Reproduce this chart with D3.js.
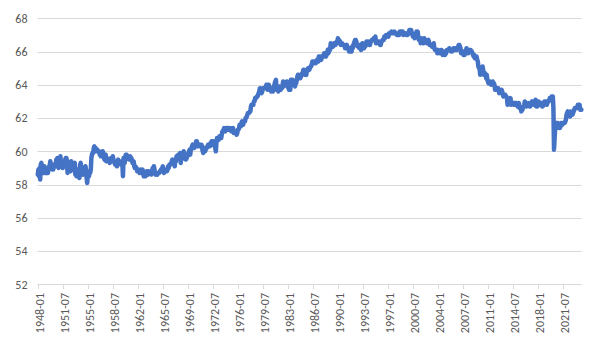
<!DOCTYPE html>
<html>
<head>
<meta charset="utf-8">
<script src="https://cdn.jsdelivr.net/npm/d3@7"></script>
<style>
  html, body { margin: 0; padding: 0; background: #fff; }
  svg { display: block; }
</style>
</head>
<body>
<svg id="chart" width="600" height="360"></svg>
<script>
// Labour force participation rate (%), monthly, starting 1948-01
const startYear = 1948;
const participationRate = [
  // 1948
  58.6, 58.9, 58.5, 59.0, 58.3, 59.2, 59.3, 58.9, 58.9, 58.7, 58.7, 59.1,
  // 1949
  58.7, 58.9, 58.7, 58.7, 58.9, 58.7, 59.0, 59.1, 59.1, 59.4, 59.1, 59.0,
  // 1950
  58.9, 58.9, 58.9, 59.2, 59.1, 59.1, 59.1, 59.5, 59.1, 59.6, 59.3, 59.0,
  // 1951
  59.3, 59.2, 59.7, 59.2, 59.3, 59.1, 59.0, 59.3, 59.1, 59.1, 59.5, 59.6,
  // 1952
  59.6, 59.4, 58.7, 58.9, 58.9, 59.2, 58.9, 58.8, 59.4, 59.1, 59.3, 59.2,
  // 1953
  58.9, 59.2, 59.3, 58.6, 58.8, 58.5, 58.9, 58.7, 58.6, 58.5, 58.4, 59.2,
  // 1954
  59.3, 59.0, 58.8, 58.7, 58.6, 58.8, 58.7, 58.8, 59.1, 58.9, 58.4, 58.1,
  // 1955
  58.6, 58.5, 58.5, 58.8, 58.7, 58.9, 59.6, 59.8, 59.9, 59.9, 60.2, 60.3,
  // 1956
  60.1, 60.2, 60.1, 60.0, 60.1, 60.0, 60.0, 60.0, 59.8, 59.9, 59.7, 59.8,
  // 1957
  59.8, 60.0, 59.9, 59.6, 59.5, 59.7, 59.8, 59.4, 59.6, 59.4, 59.5, 59.4,
  // 1958
  59.4, 59.3, 59.5, 59.6, 59.5, 59.4, 59.7, 59.5, 59.4, 59.3, 59.2, 59.3,
  // 1959
  59.3, 59.1, 59.3, 59.5, 59.3, 59.3, 59.4, 59.3, 59.2, 59.3, 59.3, 58.5,
  // 1960
  59.6, 59.5, 59.3, 59.7, 59.8, 59.8, 59.7, 59.6, 59.6, 59.5, 59.5, 59.7,
  // 1961
  59.6, 59.6, 59.5, 59.3, 59.3, 59.4, 59.1, 59.0, 59.1, 59.0, 59.0, 58.8,
  // 1962
  58.8, 58.9, 58.8, 58.7, 58.8, 58.9, 58.7, 58.8, 58.9, 58.7, 58.5, 58.5,
  // 1963
  58.6, 58.5, 58.6, 58.8, 58.7, 58.6, 58.8, 58.7, 58.7, 58.8, 58.8, 58.6,
  // 1964
  58.7, 59.0, 58.8, 59.1, 58.9, 58.7, 58.6, 58.7, 58.7, 58.6, 58.7, 58.7,
  // 1965
  58.7, 58.8, 58.8, 58.9, 58.9, 59.0, 59.1, 58.8, 58.7, 58.9, 58.9, 58.8,
  // 1966
  58.9, 58.8, 58.9, 59.1, 59.0, 59.2, 59.2, 59.2, 59.3, 59.4, 59.5, 59.4,
  // 1967
  59.3, 59.3, 59.1, 59.5, 59.4, 59.7, 59.6, 59.7, 59.8, 59.8, 59.8, 59.9,
  // 1968
  59.3, 59.6, 59.6, 59.6, 59.8, 60.0, 59.8, 59.6, 59.5, 59.5, 59.6, 59.7,
  // 1969
  59.8, 59.9, 60.0, 60.1, 59.8, 60.1, 60.2, 60.3, 60.4, 60.3, 60.3, 60.2,
  // 1970
  60.4, 60.4, 60.6, 60.6, 60.5, 60.3, 60.4, 60.3, 60.3, 60.4, 60.4, 60.4,
  // 1971
  60.2, 60.0, 59.9, 60.1, 60.2, 60.0, 60.1, 60.2, 60.2, 60.3, 60.4, 60.4,
  // 1972
  60.3, 60.3, 60.5, 60.5, 60.6, 60.6, 60.4, 60.6, 60.5, 60.4, 60.2, 60.0,
  // 1973
  60.5, 60.8, 60.8, 60.7, 60.7, 60.9, 60.9, 60.8, 60.8, 61.0, 61.2, 61.2,
  // 1974
  61.3, 61.4, 61.3, 61.2, 61.3, 61.4, 61.4, 61.3, 61.4, 61.3, 61.3, 61.3,
  // 1975
  61.4, 61.2, 61.3, 61.3, 61.4, 61.1, 61.2, 61.2, 61.1, 61.1, 61.0, 61.1,
  // 1976
  61.3, 61.3, 61.4, 61.6, 61.5, 61.5, 61.7, 61.8, 61.6, 61.6, 61.8, 61.8,
  // 1977
  61.8, 62.0, 62.0, 62.1, 62.2, 62.3, 62.3, 62.3, 62.4, 62.4, 62.7, 62.8,
  // 1978
  62.8, 62.8, 62.8, 63.0, 63.0, 63.2, 63.2, 63.2, 63.3, 63.3, 63.4, 63.5,
  // 1979
  63.6, 63.8, 63.8, 63.6, 63.5, 63.6, 63.8, 63.8, 63.8, 63.8, 63.8, 63.9,
  // 1980
  64.0, 64.0, 63.7, 63.8, 64.0, 63.7, 63.8, 63.7, 63.6, 63.7, 63.8, 63.6,
  // 1981
  63.9, 63.9, 64.1, 64.2, 64.3, 63.7, 63.8, 63.8, 63.6, 63.9, 63.9, 63.8,
  // 1982
  63.7, 63.8, 63.8, 63.9, 64.2, 63.9, 64.0, 64.1, 64.1, 64.1, 64.2, 64.1,
  // 1983
  63.9, 63.8, 63.7, 63.8, 63.7, 64.3, 64.1, 64.3, 64.3, 64.0, 64.1, 64.1,
  // 1984
  63.9, 64.1, 64.1, 64.3, 64.5, 64.6, 64.6, 64.4, 64.4, 64.4, 64.5, 64.6,
  // 1985
  64.7, 64.7, 64.9, 64.9, 64.8, 64.6, 64.7, 64.6, 64.9, 64.9, 65.0, 65.0,
  // 1986
  64.9, 65.0, 65.1, 65.1, 65.2, 65.4, 65.4, 65.3, 65.4, 65.4, 65.4, 65.3,
  // 1987
  65.4, 65.5, 65.5, 65.4, 65.7, 65.5, 65.6, 65.7, 65.5, 65.7, 65.7, 65.7,
  // 1988
  65.8, 65.9, 65.7, 65.8, 65.7, 65.8, 65.9, 66.1, 65.9, 66.0, 66.2, 66.1,
  // 1989
  66.5, 66.3, 66.3, 66.4, 66.3, 66.4, 66.5, 66.5, 66.4, 66.5, 66.6, 66.5,
  // 1990
  66.8, 66.7, 66.7, 66.6, 66.6, 66.4, 66.5, 66.5, 66.4, 66.4, 66.4, 66.4,
  // 1991
  66.2, 66.2, 66.3, 66.4, 66.2, 66.2, 66.1, 66.0, 66.2, 66.1, 66.1, 66.0,
  // 1992
  66.3, 66.2, 66.4, 66.5, 66.6, 66.7, 66.7, 66.6, 66.4, 66.3, 66.3, 66.4,
  // 1993
  66.2, 66.2, 66.2, 66.1, 66.4, 66.5, 66.4, 66.4, 66.2, 66.3, 66.3, 66.4,
  // 1994
  66.6, 66.6, 66.5, 66.5, 66.6, 66.4, 66.4, 66.6, 66.6, 66.7, 66.7, 66.7,
  // 1995
  66.8, 66.8, 66.7, 66.9, 66.5, 66.5, 66.6, 66.6, 66.6, 66.6, 66.5, 66.4,
  // 1996
  66.4, 66.6, 66.6, 66.7, 66.7, 66.7, 66.9, 66.8, 66.9, 67.0, 67.0, 67.0,
  // 1997
  67.0, 66.9, 67.1, 67.1, 67.1, 67.1, 67.2, 67.1, 67.1, 67.1, 67.1, 67.2,
  // 1998
  67.1, 67.1, 67.1, 67.0, 67.0, 67.0, 67.0, 67.0, 67.2, 67.2, 67.1, 67.2,
  // 1999
  67.2, 67.2, 67.0, 67.1, 67.1, 67.1, 67.1, 67.0, 67.0, 67.0, 67.1, 67.1,
  // 2000
  67.3, 67.3, 67.3, 67.3, 67.1, 67.1, 66.9, 66.9, 66.9, 66.8, 66.9, 67.0,
  // 2001
  67.2, 67.1, 67.2, 66.9, 66.7, 66.7, 66.8, 66.5, 66.8, 66.7, 66.7, 66.7,
  // 2002
  66.5, 66.8, 66.6, 66.7, 66.7, 66.6, 66.5, 66.6, 66.7, 66.6, 66.4, 66.4,
  // 2003
  66.4, 66.4, 66.3, 66.4, 66.4, 66.5, 66.2, 66.1, 66.1, 66.1, 66.1, 65.9,
  // 2004
  66.1, 66.0, 66.0, 65.9, 65.9, 66.1, 66.1, 66.0, 65.8, 65.9, 66.0, 65.9,
  // 2005
  65.8, 65.9, 65.9, 66.1, 66.1, 66.1, 66.1, 66.2, 66.1, 66.1, 66.0, 66.0,
  // 2006
  66.0, 66.1, 66.2, 66.1, 66.1, 66.2, 66.1, 66.2, 66.1, 66.2, 66.3, 66.4,
  // 2007
  66.4, 66.3, 66.2, 65.9, 66.0, 66.0, 66.0, 65.8, 66.0, 65.8, 66.0, 66.0,
  // 2008
  66.2, 66.0, 66.1, 65.9, 66.1, 66.1, 66.1, 66.1, 66.0, 66.0, 65.9, 65.8,
  // 2009
  65.7, 65.8, 65.6, 65.7, 65.7, 65.7, 65.5, 65.4, 65.1, 65.0, 65.0, 64.6,
  // 2010
  64.8, 64.9, 64.9, 65.1, 64.9, 64.6, 64.6, 64.7, 64.6, 64.4, 64.6, 64.3,
  // 2011
  64.2, 64.1, 64.2, 64.2, 64.1, 64.0, 64.0, 64.1, 64.2, 64.1, 64.1, 64.0,
  // 2012
  63.7, 63.8, 63.8, 63.7, 63.8, 63.8, 63.7, 63.5, 63.6, 63.7, 63.6, 63.7,
  // 2013
  63.6, 63.4, 63.3, 63.4, 63.4, 63.4, 63.3, 63.3, 63.2, 62.8, 63.0, 62.9,
  // 2014
  62.9, 63.0, 63.2, 62.8, 62.9, 62.9, 62.9, 62.9, 62.8, 62.9, 62.9, 62.8,
  // 2015
  62.9, 62.8, 62.7, 62.8, 62.9, 62.6, 62.6, 62.6, 62.4, 62.5, 62.5, 62.7,
  // 2016
  62.7, 62.8, 63.0, 62.8, 62.7, 62.7, 62.8, 62.8, 62.9, 62.8, 62.7, 62.7,
  // 2017
  62.9, 62.9, 63.0, 62.9, 62.8, 62.8, 62.9, 62.9, 63.1, 62.7, 62.8, 62.7,
  // 2018
  62.8, 63.0, 62.9, 62.8, 62.8, 62.9, 62.9, 62.7, 62.7, 62.8, 62.9, 63.0,
  // 2019
  63.0, 63.0, 63.0, 62.8, 62.9, 63.0, 63.0, 63.1, 63.2, 63.2, 63.2, 63.3,
  // 2020
  63.3, 63.3, 62.6, 60.1, 60.8, 61.4, 61.5, 61.7, 61.4, 61.7, 61.5, 61.5,
  // 2021
  61.4, 61.4, 61.5, 61.7, 61.6, 61.6, 61.7, 61.7, 61.7, 61.7, 61.8, 61.9,
  // 2022
  62.2, 62.3, 62.4, 62.2, 62.3, 62.2, 62.1, 62.4, 62.3, 62.2, 62.2, 62.3,
  // 2023
  62.4, 62.5, 62.6, 62.6, 62.6, 62.6, 62.6, 62.8, 62.8, 62.7, 62.8, 62.5,
  // 2024
  62.5, 62.5
];

const xTickLabels = [
  "1948-01", "1951-07", "1955-01", "1958-07", "1962-01", "1965-07", "1969-01",
  "1972-07", "1976-01", "1979-07", "1983-01", "1986-07", "1990-01", "1993-07",
  "1997-01", "2000-07", "2004-01", "2007-07", "2011-01", "2014-07", "2018-01",
  "2021-07"
];
const yTicks = [52, 54, 56, 58, 60, 62, 64, 66, 68];

// month category labels, one per value
const categories = participationRate.map((_, i) => {
  const yr = startYear + Math.floor(i / 12);
  const m = (i % 12) + 1;
  return yr + "-" + (m < 10 ? "0" + m : "" + m);
});
const data = participationRate.map((v, i) => ({ cat: categories[i], value: v }));

const svg = d3.select("#chart");
const plotLeft = 37.5, plotRight = 581.7, plotTop = 18.3, plotBottom = 284.3;
const FONT = "Calibri, Carlito, 'Liberation Sans', Arial, sans-serif";

const x = d3.scaleBand().domain(categories).range([plotLeft, plotRight]).paddingInner(0).paddingOuter(0);
const y = d3.scaleLinear().domain([52, 68]).range([plotBottom, plotTop]);

// gridlines
svg.append("g")
  .selectAll("line")
  .data(yTicks.filter(t => t !== 52))
  .join("line")
  .attr("x1", plotLeft).attr("x2", plotRight)
  .attr("y1", d => Math.round(y(d)) + 0.5).attr("y2", d => Math.round(y(d)) + 0.5)
  .attr("stroke", "#d9d9d9").attr("stroke-width", 1);

// y axis labels
const yAxis = d3.axisLeft(y).tickValues(yTicks).tickSize(0).tickPadding(10).tickFormat(d3.format("d"));
const gy = svg.append("g").attr("transform", `translate(${plotLeft},0)`).call(yAxis);
gy.select(".domain").remove();
gy.selectAll("text")
  .attr("font-family", FONT).attr("font-size", 12).attr("fill", "#595959");

// x axis
const xAxis = d3.axisBottom(x).tickValues(xTickLabels).tickSize(5).tickSizeOuter(0).tickPadding(3);
const gx = svg.append("g").attr("transform", `translate(0,${Math.round(plotBottom)})`).call(xAxis);
gx.select(".domain").attr("stroke", "#d9d9d9").attr("d", `M${plotLeft},0.5H${plotRight}`);
gx.selectAll(".tick").attr("transform", d => `translate(${Math.round(x(d)) + 0.5},0)`);
gx.selectAll(".tick line").attr("stroke", "#d9d9d9");
gx.selectAll(".tick text")
  .attr("font-family", FONT).attr("font-size", 12).attr("fill", "#595959")
  .attr("text-anchor", "end")
  .attr("transform", "translate(1.5,9) rotate(-90)")
  .attr("x", 0).attr("y", 0).attr("dy", "0.35em");

// line
const line = d3.line()
  .x(d => x(d.cat) + x.bandwidth() / 2)
  .y(d => y(d.value))
  .curve(d3.curveLinear);

svg.append("path")
  .datum(data)
  .attr("fill", "none")
  .attr("stroke", "#4472c4")
  .attr("stroke-width", 4.5)
  .attr("stroke-linejoin", "round")
  .attr("stroke-linecap", "round")
  .attr("d", line);
</script>
</body>
</html>
